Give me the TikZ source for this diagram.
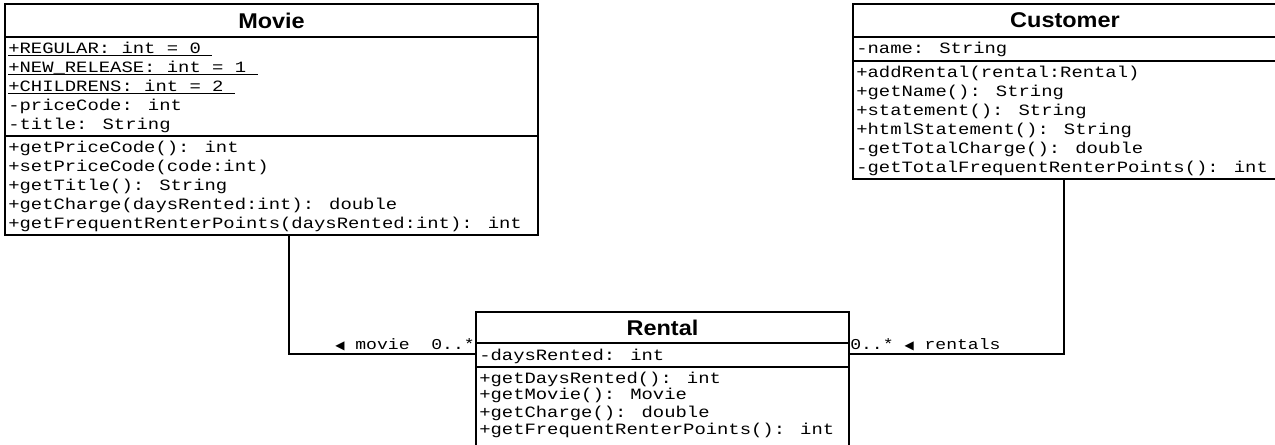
\documentclass[tikz,border=0pt]{standalone}
\usepackage{fontspec}
\setmainfont{Liberation Sans}
\newfontfamily\umlmono[FakeStretch=1.2]{Liberation Mono}
\newfontfamily\umltitlefont[FakeStretch=1.1]{Liberation Sans}
\newfontfamily\umlsym{DejaVu Sans}
\newcommand\pxu{0.75pt}
\newcommand\umlul[1]{\setbox0\hbox{#1}\rlap{\rule[-2.4pt]{\wd0}{0.8pt}}\box0}
\newcommand\umltri{{\umlsym\fontsize{9}{9}\selectfont ◀}}
\begin{document}
\begin{tikzpicture}[x=0.75pt,y=-0.75pt,
  part/.style={draw, line width=1.5pt, anchor=north west, inner sep=0pt, outer sep=0pt},
  ttl/.style={part, font=\umltitlefont\bfseries\fontsize{16}{18}\selectfont},
  txtline/.style={anchor=base west, inner sep=0pt, font=\umlmono\fontsize{11.8}{14}\selectfont},
  lbl/.style={inner sep=0pt, font=\umlmono\fontsize{11.3}{13}\selectfont},
  conn/.style={line width=1.5pt}]
\useasboundingbox (0,0) rectangle (1275,445);
\fill[white] (0,0) rectangle (1275,445);

% connector bends
\coordinate (mbend) at (289,354);
\coordinate (cbend) at (1064,354);

% Movie
\node[ttl, minimum width=533*\pxu, minimum height=33*\pxu] (movie) at (5,4) {Movie};
\node[part, minimum width=533*\pxu, minimum height=99*\pxu] (movieattr) at (5,37) {};
\node[part, minimum width=533*\pxu, minimum height=99*\pxu] (moviemeth) at (5,136) {};
\foreach \t [count=\i from 0] in {\umlul{+REGULAR: int = 0\ }, \umlul{+NEW\_RELEASE: int = 1\ }, \umlul{+CHILDRENS: int = 2\ }, -priceCode: int, -title: String}
  \node[txtline] (ma\i) at (8,{53.3+19*\i}) {\t};
\foreach \t [count=\i from 0] in {+getPriceCode(): int, +setPriceCode(code:int), +getTitle(): String, +getCharge(daysRented:int): double, +getFrequentRenterPoints(daysRented:int): int}
  \node[txtline] (mm\i) at (8,{152.3+19*\i}) {\t};

% Customer
\node[ttl, minimum width=424*\pxu, minimum height=33*\pxu] (customer) at (853,4) {Customer};
\node[part, minimum width=424*\pxu, minimum height=24*\pxu] (custattr) at (853,37) {};
\node[part, minimum width=424*\pxu, minimum height=118*\pxu] (custmeth) at (853,61) {};
\node[txtline] (ca0) at (856,53.3) {-name: String};
\foreach \t [count=\i from 0] in {+addRental(rental:Rental), +getName(): String, +statement(): String, +htmlStatement(): String, -getTotalCharge(): double, -getTotalFrequentRenterPoints(): int}
  \node[txtline] (cm\i) at (856,{77.3+19*\i}) {\t};

% Rental
\node[ttl, minimum width=373*\pxu, minimum height=31*\pxu] (rental) at (476,312) {Rental};
\node[part, minimum width=373*\pxu, minimum height=24*\pxu] (rattr) at (476,343) {};
\node[part, minimum width=373*\pxu, minimum height=90*\pxu] (rmeth) at (476,367) {};
\node[txtline] (ra0) at (479,361) {-daysRented: int};
\foreach \t [count=\i from 0] in {+getDaysRented(): int, +getMovie(): Movie, +getCharge(): double, +getFrequentRenterPoints(): int}
  \node[txtline] (rm\i) at (479,{383+17*\i}) {\t};

\draw[conn] (moviemeth.south -| mbend) -- (mbend) -- (rattr.west |- mbend);
\draw[conn] (custmeth.south -| cbend) -- (cbend) -- (rattr.east |- cbend);

\node[lbl, anchor=base east] (movielbl) at (475,350) {\umltri\ movie\ \ 0..*};
\node[lbl, anchor=base west] (rentlbl) at (850,350) {0..*\ \umltri\ rentals};
\end{tikzpicture}
\end{document}
